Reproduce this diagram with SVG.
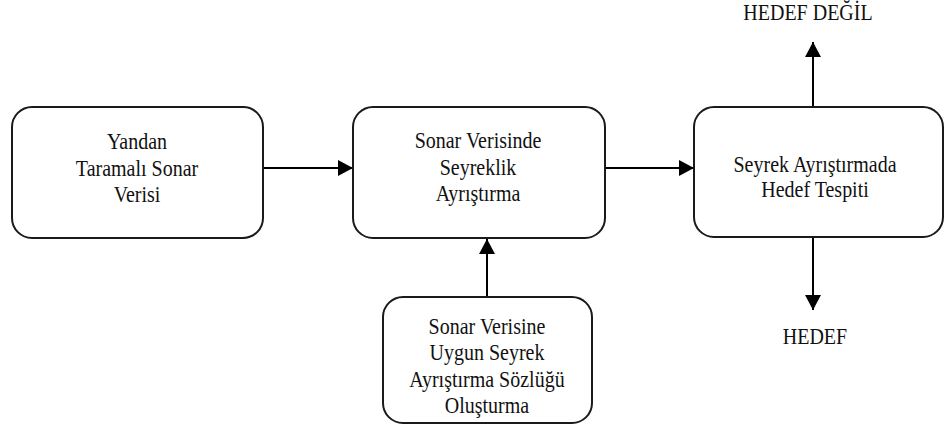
<svg xmlns="http://www.w3.org/2000/svg" width="944" height="428" viewBox="0 0 944 428">
  <style>
    .box { fill: #ffffff; stroke: #1a1a1a; stroke-width: 2; }
    .link { fill: none; stroke: #000000; stroke-width: 2; }
    text { font-family: "Liberation Serif", "Times New Roman", serif; font-size: 20px; fill: #111111; text-anchor: middle; }
  </style>
  <defs>
    <marker id="head" viewBox="0 0 15 16" refX="15" refY="8" markerWidth="15" markerHeight="16" markerUnits="userSpaceOnUse" orient="auto">
      <path d="M0,0 L15,8 L0,16 Z" fill="#000000"/>
    </marker>
  </defs>
  <rect width="944" height="428" fill="#ffffff"/>

  <!-- connectors -->
  <g id="connectors">
    <line class="link" x1="263" y1="168" x2="353" y2="168" marker-end="url(#head)"/>
    <line class="link" x1="605" y1="168" x2="694" y2="168" marker-end="url(#head)"/>
    <line class="link" x1="487" y1="297" x2="487" y2="239" marker-end="url(#head)"/>
    <line class="link" x1="813" y1="107" x2="813" y2="42" marker-end="url(#head)"/>
    <line class="link" x1="813" y1="237" x2="813" y2="310" marker-end="url(#head)"/>
  </g>

  <!-- side-scan sonar data -->
  <g id="node-input">
    <rect class="box" x="12" y="107" width="251" height="131" rx="20" ry="20"/>
    <text font-family="Liberation Serif, serif" transform="translate(137,149) scale(1,1.12)" x="0" y="0">Yandan</text>
    <text font-family="Liberation Serif, serif" transform="translate(137,175.5) scale(1,1.12)" x="0" y="0">Taramalı Sonar</text>
    <text font-family="Liberation Serif, serif" transform="translate(137,202) scale(1,1.12)" x="0" y="0">Verisi</text>
  </g>

  <!-- sparse decomposition -->
  <g id="node-decompose">
    <rect class="box" x="353" y="107" width="252" height="131" rx="20" ry="20"/>
    <text font-family="Liberation Serif, serif" transform="translate(478,148) scale(1,1.12)" x="0" y="0">Sonar Verisinde</text>
    <text font-family="Liberation Serif, serif" transform="translate(478,174.5) scale(1,1.12)" x="0" y="0">Seyreklik</text>
    <text font-family="Liberation Serif, serif" transform="translate(478,201) scale(1,1.12)" x="0" y="0">Ayrıştırma</text>
  </g>

  <!-- target detection -->
  <g id="node-detect">
    <rect class="box" x="694" y="107" width="249" height="130" rx="20" ry="20"/>
    <text font-family="Liberation Serif, serif" transform="translate(815,172) scale(1,1.12)" x="0" y="0">Seyrek Ayrıştırmada</text>
    <text font-family="Liberation Serif, serif" transform="translate(815,197) scale(1,1.12)" x="0" y="0">Hedef Tespiti</text>
  </g>

  <!-- dictionary construction -->
  <g id="node-dictionary">
    <rect class="box" x="383" y="297" width="209" height="126" rx="20" ry="20"/>
    <text font-family="Liberation Serif, serif" transform="translate(487,334) scale(1,1.12)" x="0" y="0">Sonar Verisine</text>
    <text font-family="Liberation Serif, serif" transform="translate(487,360) scale(1,1.12)" x="0" y="0">Uygun Seyrek</text>
    <text font-family="Liberation Serif, serif" transform="translate(487,386.5) scale(1,1.12)" x="0" y="0">Ayrıştırma Sözlüğü</text>
    <text font-family="Liberation Serif, serif" transform="translate(487,412.5) scale(1,1.12)" x="0" y="0">Oluşturma</text>
  </g>

  <!-- outcomes -->
  <g id="out-not-target">
    <text font-family="Liberation Serif, serif" transform="translate(808,20) scale(1,1.12)" x="0" y="0">HEDEF DEĞİL</text>
  </g>
  <g id="out-target">
    <text font-family="Liberation Serif, serif" transform="translate(815,344) scale(1,1.12)" x="0" y="0">HEDEF</text>
  </g>
</svg>
